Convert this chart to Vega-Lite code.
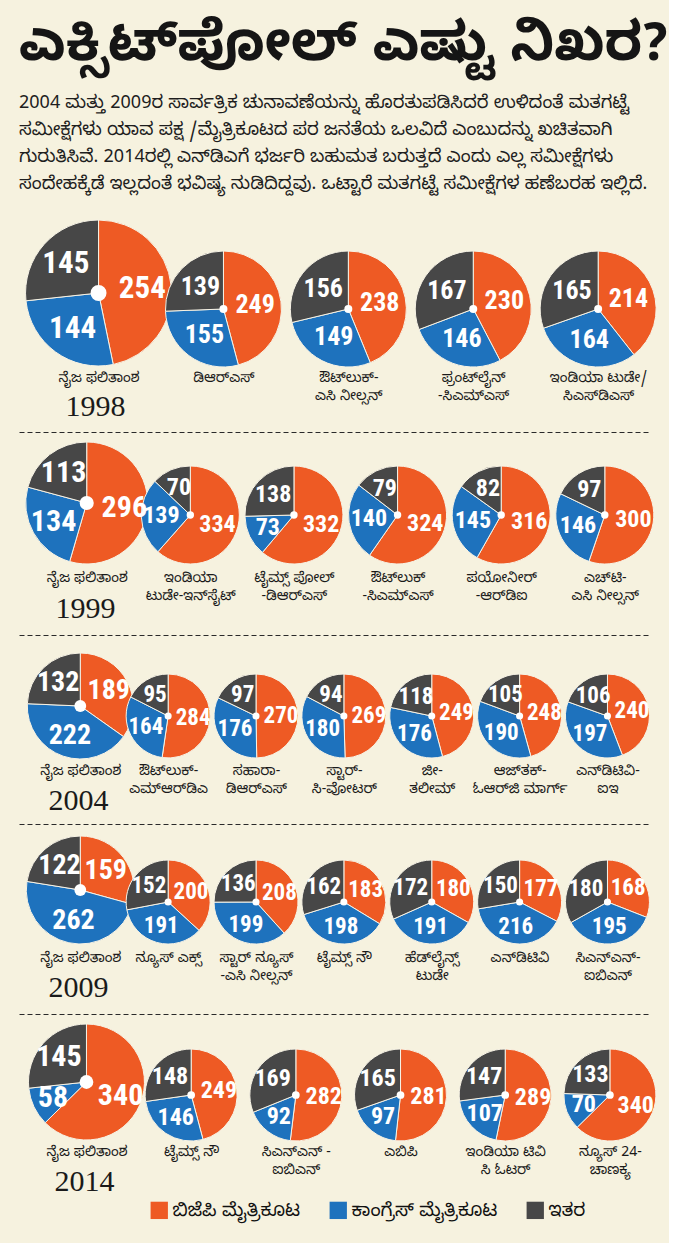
{
"$schema": "https://vega.github.io/schema/vega-lite/v6.json",
"background": "#f6f2df",
"padding": {"left": 19, "top": 16, "right": 0, "bottom": 24},
"bounds": "flush",
"spacing": 66,
"title": {
  "text": "ಎಕ್ಸಿಟ್\u200cಪೋಲ್ ಎಷ್ಟು ನಿಖರ?",
  "subtitle": [
    "2004 ಮತ್ತು 2009ರ ಸಾರ್ವತ್ರಿಕ ಚುನಾವಣೆಯನ್ನು ಹೊರತುಪಡಿಸಿದರೆ ಉಳಿದಂತೆ ಮತಗಟ್ಟೆ",
    "ಸಮೀಕ್ಷೆಗಳು ಯಾವ ಪಕ್ಷ /ಮೈತ್ರಿಕೂಟದ ಪರ ಜನತೆಯ ಒಲವಿದೆ ಎಂಬುದನ್ನು ಖಚಿತವಾಗಿ",
    "ಗುರುತಿಸಿವೆ. 2014ರಲ್ಲಿ ಎನ್\u200cಡಿಎಗೆ ಭರ್ಜರಿ ಬಹುಮತ ಬರುತ್ತದೆ ಎಂದು ಎಲ್ಲ ಸಮೀಕ್ಷೆಗಳು",
    "ಸಂದೇಹಕ್ಕೆಡೆ ಇಲ್ಲದಂತೆ ಭವಿಷ್ಯ ನುಡಿದಿದ್ದವು.  ಒಟ್ಟಾರೆ ಮತಗಟ್ಟೆ ಸಮೀಕ್ಷೆಗಳ ಹಣೆಬರಹ ಇಲ್ಲಿದೆ."
  ],
  "anchor": "start",
  "frame": "group",
  "font": "Noto Sans Kannada, Noto Sans, sans-serif",
  "fontSize": 54.5,
  "fontWeight": "bold",
  "color": "#151515",
  "subtitleFont": "Noto Sans Kannada, Noto Sans, sans-serif",
  "subtitleFontSize": 18,
  "subtitleColor": "#1e1e1e",
  "subtitleLineHeight": 27,
  "subtitlePadding": 22.5,
  "offset": 24
},
"data": {"values": [
{"y":1998,"s":"ನೈಜ ಫಲಿತಾಂಶ","k":"a","p":"ಬಿಜೆಪಿ ಮೈತ್ರಿಕೂಟ","v":254},
{"y":1998,"s":"ನೈಜ ಫಲಿತಾಂಶ","k":"a","p":"ಕಾಂಗ್ರೆಸ್ ಮೈತ್ರಿಕೂಟ","v":144},
{"y":1998,"s":"ನೈಜ ಫಲಿತಾಂಶ","k":"a","p":"ಇತರ","v":145},
{"y":1998,"s":"ಡಿಆರ್\u200cಎಸ್","k":"p","p":"ಬಿಜೆಪಿ ಮೈತ್ರಿಕೂಟ","v":249},
{"y":1998,"s":"ಡಿಆರ್\u200cಎಸ್","k":"p","p":"ಕಾಂಗ್ರೆಸ್ ಮೈತ್ರಿಕೂಟ","v":155},
{"y":1998,"s":"ಡಿಆರ್\u200cಎಸ್","k":"p","p":"ಇತರ","v":139},
{"y":1998,"s":"ಔಟ್\u200cಲುಕ್-|ಎಸಿ ನೀಲ್ಸನ್","k":"p","p":"ಬಿಜೆಪಿ ಮೈತ್ರಿಕೂಟ","v":238},
{"y":1998,"s":"ಔಟ್\u200cಲುಕ್-|ಎಸಿ ನೀಲ್ಸನ್","k":"p","p":"ಕಾಂಗ್ರೆಸ್ ಮೈತ್ರಿಕೂಟ","v":149},
{"y":1998,"s":"ಔಟ್\u200cಲುಕ್-|ಎಸಿ ನೀಲ್ಸನ್","k":"p","p":"ಇತರ","v":156},
{"y":1998,"s":"ಫ್ರಂಟ್\u200cಲೈನ್|-ಸಿಎಮ್\u200cಎಸ್","k":"p","p":"ಬಿಜೆಪಿ ಮೈತ್ರಿಕೂಟ","v":230},
{"y":1998,"s":"ಫ್ರಂಟ್\u200cಲೈನ್|-ಸಿಎಮ್\u200cಎಸ್","k":"p","p":"ಕಾಂಗ್ರೆಸ್ ಮೈತ್ರಿಕೂಟ","v":146},
{"y":1998,"s":"ಫ್ರಂಟ್\u200cಲೈನ್|-ಸಿಎಮ್\u200cಎಸ್","k":"p","p":"ಇತರ","v":167},
{"y":1998,"s":"ಇಂಡಿಯಾ ಟುಡೇ/|ಸಿಎಸ್\u200cಡಿಎಸ್","k":"p","p":"ಬಿಜೆಪಿ ಮೈತ್ರಿಕೂಟ","v":214},
{"y":1998,"s":"ಇಂಡಿಯಾ ಟುಡೇ/|ಸಿಎಸ್\u200cಡಿಎಸ್","k":"p","p":"ಕಾಂಗ್ರೆಸ್ ಮೈತ್ರಿಕೂಟ","v":164},
{"y":1998,"s":"ಇಂಡಿಯಾ ಟುಡೇ/|ಸಿಎಸ್\u200cಡಿಎಸ್","k":"p","p":"ಇತರ","v":165},
{"y":1999,"s":"ನೈಜ ಫಲಿತಾಂಶ","k":"a","p":"ಬಿಜೆಪಿ ಮೈತ್ರಿಕೂಟ","v":296},
{"y":1999,"s":"ನೈಜ ಫಲಿತಾಂಶ","k":"a","p":"ಕಾಂಗ್ರೆಸ್ ಮೈತ್ರಿಕೂಟ","v":134},
{"y":1999,"s":"ನೈಜ ಫಲಿತಾಂಶ","k":"a","p":"ಇತರ","v":113},
{"y":1999,"s":"ಇಂಡಿಯಾ|ಟುಡೇ-ಇನ್\u200cಸೈಟ್","k":"p","p":"ಬಿಜೆಪಿ ಮೈತ್ರಿಕೂಟ","v":334},
{"y":1999,"s":"ಇಂಡಿಯಾ|ಟುಡೇ-ಇನ್\u200cಸೈಟ್","k":"p","p":"ಕಾಂಗ್ರೆಸ್ ಮೈತ್ರಿಕೂಟ","v":139},
{"y":1999,"s":"ಇಂಡಿಯಾ|ಟುಡೇ-ಇನ್\u200cಸೈಟ್","k":"p","p":"ಇತರ","v":70},
{"y":1999,"s":"ಟೈಮ್ಸ್ ಪೋಲ್|-ಡಿಆರ್\u200cಎಸ್","k":"p","p":"ಬಿಜೆಪಿ ಮೈತ್ರಿಕೂಟ","v":332},
{"y":1999,"s":"ಟೈಮ್ಸ್ ಪೋಲ್|-ಡಿಆರ್\u200cಎಸ್","k":"p","p":"ಕಾಂಗ್ರೆಸ್ ಮೈತ್ರಿಕೂಟ","v":73},
{"y":1999,"s":"ಟೈಮ್ಸ್ ಪೋಲ್|-ಡಿಆರ್\u200cಎಸ್","k":"p","p":"ಇತರ","v":138},
{"y":1999,"s":"ಔಟ್\u200cಲುಕ್|-ಸಿಎಮ್\u200cಎಸ್","k":"p","p":"ಬಿಜೆಪಿ ಮೈತ್ರಿಕೂಟ","v":324},
{"y":1999,"s":"ಔಟ್\u200cಲುಕ್|-ಸಿಎಮ್\u200cಎಸ್","k":"p","p":"ಕಾಂಗ್ರೆಸ್ ಮೈತ್ರಿಕೂಟ","v":140},
{"y":1999,"s":"ಔಟ್\u200cಲುಕ್|-ಸಿಎಮ್\u200cಎಸ್","k":"p","p":"ಇತರ","v":79},
{"y":1999,"s":"ಪಯೋನೀರ್|-ಆರ್\u200cಡಿಐ","k":"p","p":"ಬಿಜೆಪಿ ಮೈತ್ರಿಕೂಟ","v":316},
{"y":1999,"s":"ಪಯೋನೀರ್|-ಆರ್\u200cಡಿಐ","k":"p","p":"ಕಾಂಗ್ರೆಸ್ ಮೈತ್ರಿಕೂಟ","v":145},
{"y":1999,"s":"ಪಯೋನೀರ್|-ಆರ್\u200cಡಿಐ","k":"p","p":"ಇತರ","v":82},
{"y":1999,"s":"ಎಚ್\u200cಟಿ-|ಎಸಿ ನೀಲ್ಸನ್","k":"p","p":"ಬಿಜೆಪಿ ಮೈತ್ರಿಕೂಟ","v":300},
{"y":1999,"s":"ಎಚ್\u200cಟಿ-|ಎಸಿ ನೀಲ್ಸನ್","k":"p","p":"ಕಾಂಗ್ರೆಸ್ ಮೈತ್ರಿಕೂಟ","v":146},
{"y":1999,"s":"ಎಚ್\u200cಟಿ-|ಎಸಿ ನೀಲ್ಸನ್","k":"p","p":"ಇತರ","v":97},
{"y":2004,"s":"ನೈಜ ಫಲಿತಾಂಶ","k":"a","p":"ಬಿಜೆಪಿ ಮೈತ್ರಿಕೂಟ","v":189},
{"y":2004,"s":"ನೈಜ ಫಲಿತಾಂಶ","k":"a","p":"ಕಾಂಗ್ರೆಸ್ ಮೈತ್ರಿಕೂಟ","v":222},
{"y":2004,"s":"ನೈಜ ಫಲಿತಾಂಶ","k":"a","p":"ಇತರ","v":132},
{"y":2004,"s":"ಔಟ್\u200cಲುಕ್-|ಎಮ್\u200cಆರ್\u200cಡಿಎ","k":"p","p":"ಬಿಜೆಪಿ ಮೈತ್ರಿಕೂಟ","v":284},
{"y":2004,"s":"ಔಟ್\u200cಲುಕ್-|ಎಮ್\u200cಆರ್\u200cಡಿಎ","k":"p","p":"ಕಾಂಗ್ರೆಸ್ ಮೈತ್ರಿಕೂಟ","v":164},
{"y":2004,"s":"ಔಟ್\u200cಲುಕ್-|ಎಮ್\u200cಆರ್\u200cಡಿಎ","k":"p","p":"ಇತರ","v":95},
{"y":2004,"s":"ಸಹಾರಾ-|ಡಿಆರ್\u200cಎಸ್","k":"p","p":"ಬಿಜೆಪಿ ಮೈತ್ರಿಕೂಟ","v":270},
{"y":2004,"s":"ಸಹಾರಾ-|ಡಿಆರ್\u200cಎಸ್","k":"p","p":"ಕಾಂಗ್ರೆಸ್ ಮೈತ್ರಿಕೂಟ","v":176},
{"y":2004,"s":"ಸಹಾರಾ-|ಡಿಆರ್\u200cಎಸ್","k":"p","p":"ಇತರ","v":97},
{"y":2004,"s":"ಸ್ಟಾರ್-|ಸಿ-ವೋಟರ್","k":"p","p":"ಬಿಜೆಪಿ ಮೈತ್ರಿಕೂಟ","v":269},
{"y":2004,"s":"ಸ್ಟಾರ್-|ಸಿ-ವೋಟರ್","k":"p","p":"ಕಾಂಗ್ರೆಸ್ ಮೈತ್ರಿಕೂಟ","v":180},
{"y":2004,"s":"ಸ್ಟಾರ್-|ಸಿ-ವೋಟರ್","k":"p","p":"ಇತರ","v":94},
{"y":2004,"s":"ಜೀ-|ತಲೀಮ್","k":"p","p":"ಬಿಜೆಪಿ ಮೈತ್ರಿಕೂಟ","v":249},
{"y":2004,"s":"ಜೀ-|ತಲೀಮ್","k":"p","p":"ಕಾಂಗ್ರೆಸ್ ಮೈತ್ರಿಕೂಟ","v":176},
{"y":2004,"s":"ಜೀ-|ತಲೀಮ್","k":"p","p":"ಇತರ","v":118},
{"y":2004,"s":"ಆಜ್\u200cತಕ್-|ಓಆರ್\u200cಜಿ ಮಾರ್ಗ್","k":"p","p":"ಬಿಜೆಪಿ ಮೈತ್ರಿಕೂಟ","v":248},
{"y":2004,"s":"ಆಜ್\u200cತಕ್-|ಓಆರ್\u200cಜಿ ಮಾರ್ಗ್","k":"p","p":"ಕಾಂಗ್ರೆಸ್ ಮೈತ್ರಿಕೂಟ","v":190},
{"y":2004,"s":"ಆಜ್\u200cತಕ್-|ಓಆರ್\u200cಜಿ ಮಾರ್ಗ್","k":"p","p":"ಇತರ","v":105},
{"y":2004,"s":"ಎನ್\u200cಡಿಟಿವಿ-|ಐಇ","k":"p","p":"ಬಿಜೆಪಿ ಮೈತ್ರಿಕೂಟ","v":240},
{"y":2004,"s":"ಎನ್\u200cಡಿಟಿವಿ-|ಐಇ","k":"p","p":"ಕಾಂಗ್ರೆಸ್ ಮೈತ್ರಿಕೂಟ","v":197},
{"y":2004,"s":"ಎನ್\u200cಡಿಟಿವಿ-|ಐಇ","k":"p","p":"ಇತರ","v":106},
{"y":2009,"s":"ನೈಜ ಫಲಿತಾಂಶ","k":"a","p":"ಬಿಜೆಪಿ ಮೈತ್ರಿಕೂಟ","v":159},
{"y":2009,"s":"ನೈಜ ಫಲಿತಾಂಶ","k":"a","p":"ಕಾಂಗ್ರೆಸ್ ಮೈತ್ರಿಕೂಟ","v":262},
{"y":2009,"s":"ನೈಜ ಫಲಿತಾಂಶ","k":"a","p":"ಇತರ","v":122},
{"y":2009,"s":"ನ್ಯೂಸ್ ಎಕ್ಸ್","k":"p","p":"ಬಿಜೆಪಿ ಮೈತ್ರಿಕೂಟ","v":200},
{"y":2009,"s":"ನ್ಯೂಸ್ ಎಕ್ಸ್","k":"p","p":"ಕಾಂಗ್ರೆಸ್ ಮೈತ್ರಿಕೂಟ","v":191},
{"y":2009,"s":"ನ್ಯೂಸ್ ಎಕ್ಸ್","k":"p","p":"ಇತರ","v":152},
{"y":2009,"s":"ಸ್ಟಾರ್ ನ್ಯೂಸ್|-ಎಸಿ ನೀಲ್ಸನ್","k":"p","p":"ಬಿಜೆಪಿ ಮೈತ್ರಿಕೂಟ","v":208},
{"y":2009,"s":"ಸ್ಟಾರ್ ನ್ಯೂಸ್|-ಎಸಿ ನೀಲ್ಸನ್","k":"p","p":"ಕಾಂಗ್ರೆಸ್ ಮೈತ್ರಿಕೂಟ","v":199},
{"y":2009,"s":"ಸ್ಟಾರ್ ನ್ಯೂಸ್|-ಎಸಿ ನೀಲ್ಸನ್","k":"p","p":"ಇತರ","v":136},
{"y":2009,"s":"ಟೈಮ್ಸ್ ನೌ","k":"p","p":"ಬಿಜೆಪಿ ಮೈತ್ರಿಕೂಟ","v":183},
{"y":2009,"s":"ಟೈಮ್ಸ್ ನೌ","k":"p","p":"ಕಾಂಗ್ರೆಸ್ ಮೈತ್ರಿಕೂಟ","v":198},
{"y":2009,"s":"ಟೈಮ್ಸ್ ನೌ","k":"p","p":"ಇತರ","v":162},
{"y":2009,"s":"ಹೆಡ್\u200cಲೈನ್ಸ್|ಟುಡೇ","k":"p","p":"ಬಿಜೆಪಿ ಮೈತ್ರಿಕೂಟ","v":180},
{"y":2009,"s":"ಹೆಡ್\u200cಲೈನ್ಸ್|ಟುಡೇ","k":"p","p":"ಕಾಂಗ್ರೆಸ್ ಮೈತ್ರಿಕೂಟ","v":191},
{"y":2009,"s":"ಹೆಡ್\u200cಲೈನ್ಸ್|ಟುಡೇ","k":"p","p":"ಇತರ","v":172},
{"y":2009,"s":"ಎನ್\u200cಡಿಟಿವಿ","k":"p","p":"ಬಿಜೆಪಿ ಮೈತ್ರಿಕೂಟ","v":177},
{"y":2009,"s":"ಎನ್\u200cಡಿಟಿವಿ","k":"p","p":"ಕಾಂಗ್ರೆಸ್ ಮೈತ್ರಿಕೂಟ","v":216},
{"y":2009,"s":"ಎನ್\u200cಡಿಟಿವಿ","k":"p","p":"ಇತರ","v":150},
{"y":2009,"s":"ಸಿಎನ್\u200cಎನ್-|ಐಬಿಎನ್","k":"p","p":"ಬಿಜೆಪಿ ಮೈತ್ರಿಕೂಟ","v":168},
{"y":2009,"s":"ಸಿಎನ್\u200cಎನ್-|ಐಬಿಎನ್","k":"p","p":"ಕಾಂಗ್ರೆಸ್ ಮೈತ್ರಿಕೂಟ","v":195},
{"y":2009,"s":"ಸಿಎನ್\u200cಎನ್-|ಐಬಿಎನ್","k":"p","p":"ಇತರ","v":180},
{"y":2014,"s":"ನೈಜ ಫಲಿತಾಂಶ","k":"a","p":"ಬಿಜೆಪಿ ಮೈತ್ರಿಕೂಟ","v":340},
{"y":2014,"s":"ನೈಜ ಫಲಿತಾಂಶ","k":"a","p":"ಕಾಂಗ್ರೆಸ್ ಮೈತ್ರಿಕೂಟ","v":58},
{"y":2014,"s":"ನೈಜ ಫಲಿತಾಂಶ","k":"a","p":"ಇತರ","v":145},
{"y":2014,"s":"ಟೈಮ್ಸ್ ನೌ","k":"p","p":"ಬಿಜೆಪಿ ಮೈತ್ರಿಕೂಟ","v":249},
{"y":2014,"s":"ಟೈಮ್ಸ್ ನೌ","k":"p","p":"ಕಾಂಗ್ರೆಸ್ ಮೈತ್ರಿಕೂಟ","v":146},
{"y":2014,"s":"ಟೈಮ್ಸ್ ನೌ","k":"p","p":"ಇತರ","v":148},
{"y":2014,"s":"ಸಿಎನ್\u200cಎನ್ -|ಐಬಿಎನ್","k":"p","p":"ಬಿಜೆಪಿ ಮೈತ್ರಿಕೂಟ","v":282},
{"y":2014,"s":"ಸಿಎನ್\u200cಎನ್ -|ಐಬಿಎನ್","k":"p","p":"ಕಾಂಗ್ರೆಸ್ ಮೈತ್ರಿಕೂಟ","v":92},
{"y":2014,"s":"ಸಿಎನ್\u200cಎನ್ -|ಐಬಿಎನ್","k":"p","p":"ಇತರ","v":169},
{"y":2014,"s":"ಎಬಿಪಿ","k":"p","p":"ಬಿಜೆಪಿ ಮೈತ್ರಿಕೂಟ","v":281},
{"y":2014,"s":"ಎಬಿಪಿ","k":"p","p":"ಕಾಂಗ್ರೆಸ್ ಮೈತ್ರಿಕೂಟ","v":97},
{"y":2014,"s":"ಎಬಿಪಿ","k":"p","p":"ಇತರ","v":165},
{"y":2014,"s":"ಇಂಡಿಯಾ ಟಿವಿ|ಸಿ ಓಟರ್","k":"p","p":"ಬಿಜೆಪಿ ಮೈತ್ರಿಕೂಟ","v":289},
{"y":2014,"s":"ಇಂಡಿಯಾ ಟಿವಿ|ಸಿ ಓಟರ್","k":"p","p":"ಕಾಂಗ್ರೆಸ್ ಮೈತ್ರಿಕೂಟ","v":107},
{"y":2014,"s":"ಇಂಡಿಯಾ ಟಿವಿ|ಸಿ ಓಟರ್","k":"p","p":"ಇತರ","v":147},
{"y":2014,"s":"ನ್ಯೂಸ್ 24-|ಚಾಣಕ್ಯ","k":"p","p":"ಬಿಜೆಪಿ ಮೈತ್ರಿಕೂಟ","v":340},
{"y":2014,"s":"ನ್ಯೂಸ್ 24-|ಚಾಣಕ್ಯ","k":"p","p":"ಕಾಂಗ್ರೆಸ್ ಮೈತ್ರಿಕೂಟ","v":70},
{"y":2014,"s":"ನ್ಯೂಸ್ 24-|ಚಾಣಕ್ಯ","k":"p","p":"ಇತರ","v":133}
]},
"vconcat": [
{
 "width": 630, "height": 147,
 "transform": [{"filter": "datum.y == 1998"}],
 "encoding": {
  "x": {"field": "s", "type": "nominal", "sort": ["ನೈಜ ಫಲಿತಾಂಶ","ಡಿಆರ್\u200cಎಸ್","ಔಟ್\u200cಲುಕ್-|ಎಸಿ ನೀಲ್ಸನ್","ಫ್ರಂಟ್\u200cಲೈನ್|-ಸಿಎಮ್\u200cಎಸ್","ಇಂಡಿಯಾ ಟುಡೇ/|ಸಿಎಸ್\u200cಡಿಎಸ್"], "scale": {"type": "point", "padding": 0.522, "align": 0.61}, "axis": null},
  "y": {"field": "k", "type": "nominal", "scale": {"type": "point", "padding": 0, "domain": ["a","p"], "range": [74, 90]}, "axis": null}
 },
 "layer": [
  {"transform": [{"filter": {"field": "k", "equal": "a"}}, {"stack": "v", "groupby": ["s"], "sort": [{"field": "p", "order": "descending"}], "as": ["s0","s1"]}],
   "mark": {"type": "arc", "outerRadius": 73, "stroke": "#f7f3e6", "strokeWidth": 1},
   "encoding": {
    "x": {"field": "s", "type": "nominal", "sort": ["ನೈಜ ಫಲಿತಾಂಶ","ಡಿಆರ್\u200cಎಸ್","ಔಟ್\u200cಲುಕ್-|ಎಸಿ ನೀಲ್ಸನ್","ಫ್ರಂಟ್\u200cಲೈನ್|-ಸಿಎಮ್\u200cಎಸ್","ಇಂಡಿಯಾ ಟುಡೇ/|ಸಿಎಸ್\u200cಡಿಎಸ್"], "scale": {"type": "point", "padding": 0.522, "align": 0.61}, "axis": {"title": "1998", "titleX": 76, "titleY": 40, "labelPadding": 4}},
    "theta": {"field": "s0", "type": "quantitative", "stack": null, "scale": {"domain": [0, 543]}},
    "theta2": {"field": "s1"},
    "color": {"field": "p", "type": "nominal", "title": null, "scale": {"domain": ["ಬಿಜೆಪಿ ಮೈತ್ರಿಕೂಟ","ಕಾಂಗ್ರೆಸ್ ಮೈತ್ರಿಕೂಟ","ಇತರ"], "range": ["#ee5a24","#1e72bd","#474747"]}}
   }},
  {"transform": [{"filter": {"field": "k", "equal": "p"}}, {"stack": "v", "groupby": ["s"], "sort": [{"field": "p", "order": "descending"}], "as": ["s0","s1"]}],
   "mark": {"type": "arc", "outerRadius": 58, "stroke": "#f7f3e6", "strokeWidth": 1},
   "encoding": {
    "theta": {"field": "s0", "type": "quantitative", "stack": null, "scale": {"domain": [0, 543]}},
    "theta2": {"field": "s1"},
    "color": {"field": "p", "type": "nominal", "title": null, "scale": {"domain": ["ಬಿಜೆಪಿ ಮೈತ್ರಿಕೂಟ","ಕಾಂಗ್ರೆಸ್ ಮೈತ್ರಿಕೂಟ","ಇತರ"], "range": ["#ee5a24","#1e72bd","#474747"]}}
   }},
  {"transform": [{"filter": {"field": "k", "equal": "a"}}, {"filter": {"field": "p", "equal": "ಬಿಜೆಪಿ ಮೈತ್ರಿಕೂಟ"}}],
   "mark": {"type": "circle", "color": "white", "size": 254, "opacity": 1}},
  {"transform": [{"filter": {"field": "k", "equal": "p"}}, {"filter": {"field": "p", "equal": "ಬಿಜೆಪಿ ಮೈತ್ರಿಕೂಟ"}}],
   "mark": {"type": "circle", "color": "white", "size": 64, "opacity": 1}},
  {"transform": [{"filter": {"field": "k", "equal": "a"}}],
   "mark": {"type": "text", "font": "Roboto Condensed, Roboto, sans-serif", "fontWeight": "bold", "fontSize": 31, "color": "white", "align": "center", "baseline": "middle"},
   "encoding": {
    "theta": {"field": "v", "type": "quantitative", "stack": true, "scale": {"domain": [0, 543]}},
    "radius": {"field": "s", "type": "nominal", "scale": {"range": [44, 44]}},
    "order": {"field": "p", "type": "nominal", "sort": "descending"},
    "detail": {"field": "p", "type": "nominal"},
    "text": {"field": "v", "type": "quantitative"}
   }},
  {"transform": [{"filter": {"field": "k", "equal": "p"}}],
   "mark": {"type": "text", "font": "Roboto Condensed, Roboto, sans-serif", "fontWeight": "bold", "fontSize": 26, "color": "white", "align": "center", "baseline": "middle"},
   "encoding": {
    "theta": {"field": "v", "type": "quantitative", "stack": true, "scale": {"domain": [0, 543]}},
    "radius": {"field": "s", "type": "nominal", "scale": {"range": [32, 32]}},
    "order": {"field": "p", "type": "nominal", "sort": "descending"},
    "detail": {"field": "p", "type": "nominal"},
    "text": {"field": "v", "type": "quantitative"}
   }}
 ],
 "resolve": {"scale": {"radius": "independent"}, "axis": {"x": "independent"}}
},
{
 "width": 630, "height": 137,
 "transform": [{"filter": "datum.y == 1999"}],
 "encoding": {
  "x": {"field": "s", "type": "nominal", "sort": ["ನೈಜ ಫಲಿತಾಂಶ","ಇಂಡಿಯಾ|ಟುಡೇ-ಇನ್\u200cಸೈಟ್","ಟೈಮ್ಸ್ ಪೋಲ್|-ಡಿಆರ್\u200cಎಸ್","ಔಟ್\u200cಲುಕ್|-ಸಿಎಮ್\u200cಎಸ್","ಪಯೋನೀರ್|-ಆರ್\u200cಡಿಐ","ಎಚ್\u200cಟಿ-|ಎಸಿ ನೀಲ್ಸನ್"], "scale": {"type": "point", "padding": 0.54, "align": 0.605}, "axis": null},
  "y": {"field": "k", "type": "nominal", "scale": {"type": "point", "padding": 0, "domain": ["a","p"], "range": [71, 83]}, "axis": null}
 },
 "layer": [
  {"transform": [{"filter": {"field": "k", "equal": "a"}}, {"stack": "v", "groupby": ["s"], "sort": [{"field": "p", "order": "descending"}], "as": ["s0","s1"]}],
   "mark": {"type": "arc", "outerRadius": 61, "stroke": "#f7f3e6", "strokeWidth": 1},
   "encoding": {
    "x": {"field": "s", "type": "nominal", "sort": ["ನೈಜ ಫಲಿತಾಂಶ","ಇಂಡಿಯಾ|ಟುಡೇ-ಇನ್\u200cಸೈಟ್","ಟೈಮ್ಸ್ ಪೋಲ್|-ಡಿಆರ್\u200cಎಸ್","ಔಟ್\u200cಲುಕ್|-ಸಿಎಮ್\u200cಎಸ್","ಪಯೋನೀರ್|-ಆರ್\u200cಡಿಐ","ಎಚ್\u200cಟಿ-|ಎಸಿ ನೀಲ್ಸನ್"], "scale": {"type": "point", "padding": 0.54, "align": 0.605}, "axis": {"title": "1999", "titleX": 66, "titleY": 39, "labelPadding": 1}},
    "theta": {"field": "s0", "type": "quantitative", "stack": null, "scale": {"domain": [0, 543]}},
    "theta2": {"field": "s1"},
    "color": {"field": "p", "type": "nominal", "title": null, "scale": {"domain": ["ಬಿಜೆಪಿ ಮೈತ್ರಿಕೂಟ","ಕಾಂಗ್ರೆಸ್ ಮೈತ್ರಿಕೂಟ","ಇತರ"], "range": ["#ee5a24","#1e72bd","#474747"]}}
   }},
  {"transform": [{"filter": {"field": "k", "equal": "p"}}, {"stack": "v", "groupby": ["s"], "sort": [{"field": "p", "order": "descending"}], "as": ["s0","s1"]}],
   "mark": {"type": "arc", "outerRadius": 49, "stroke": "#f7f3e6", "strokeWidth": 1},
   "encoding": {
    "x": {"field": "s", "type": "nominal", "sort": ["ನೈಜ ಫಲಿತಾಂಶ","ಇಂಡಿಯಾ|ಟುಡೇ-ಇನ್\u200cಸೈಟ್","ಟೈಮ್ಸ್ ಪೋಲ್|-ಡಿಆರ್\u200cಎಸ್","ಔಟ್\u200cಲುಕ್|-ಸಿಎಮ್\u200cಎಸ್","ಪಯೋನೀರ್|-ಆರ್\u200cಡಿಐ","ಎಚ್\u200cಟಿ-|ಎಸಿ ನೀಲ್ಸನ್"], "scale": {"type": "point", "padding": 0.54, "align": 0.605}, "axis": {"orient": "top", "domain": true, "domainDash": [5, 3], "domainColor": "#2a2a2a", "labels": false, "title": null}},
    "theta": {"field": "s0", "type": "quantitative", "stack": null, "scale": {"domain": [0, 543]}},
    "theta2": {"field": "s1"},
    "color": {"field": "p", "type": "nominal", "title": null, "scale": {"domain": ["ಬಿಜೆಪಿ ಮೈತ್ರಿಕೂಟ","ಕಾಂಗ್ರೆಸ್ ಮೈತ್ರಿಕೂಟ","ಇತರ"], "range": ["#ee5a24","#1e72bd","#474747"]}}
   }},
  {"transform": [{"filter": {"field": "k", "equal": "a"}}, {"filter": {"field": "p", "equal": "ಬಿಜೆಪಿ ಮೈತ್ರಿಕೂಟ"}}],
   "mark": {"type": "circle", "color": "white", "size": 200, "opacity": 1}},
  {"transform": [{"filter": {"field": "k", "equal": "p"}}, {"filter": {"field": "p", "equal": "ಬಿಜೆಪಿ ಮೈತ್ರಿಕೂಟ"}}],
   "mark": {"type": "circle", "color": "white", "size": 55, "opacity": 1}},
  {"transform": [{"filter": {"field": "k", "equal": "a"}}],
   "mark": {"type": "text", "font": "Roboto Condensed, Roboto, sans-serif", "fontWeight": "bold", "fontSize": 30, "color": "white", "align": "center", "baseline": "middle"},
   "encoding": {
    "theta": {"field": "v", "type": "quantitative", "stack": true, "scale": {"domain": [0, 543]}},
    "radius": {"field": "s", "type": "nominal", "scale": {"range": [38, 38]}},
    "order": {"field": "p", "type": "nominal", "sort": "descending"},
    "detail": {"field": "p", "type": "nominal"},
    "text": {"field": "v", "type": "quantitative"}
   }},
  {"transform": [{"filter": {"field": "k", "equal": "p"}}],
   "mark": {"type": "text", "font": "Roboto Condensed, Roboto, sans-serif", "fontWeight": "bold", "fontSize": 24, "color": "white", "align": "center", "baseline": "middle"},
   "encoding": {
    "theta": {"field": "v", "type": "quantitative", "stack": true, "scale": {"domain": [0, 543]}},
    "radius": {"field": "s", "type": "nominal", "scale": {"range": [29, 29]}},
    "order": {"field": "p", "type": "nominal", "sort": "descending"},
    "detail": {"field": "p", "type": "nominal"},
    "text": {"field": "v", "type": "quantitative"}
   }}
 ],
 "resolve": {"scale": {"radius": "independent"}, "axis": {"x": "independent"}}
},
{
 "width": 630, "height": 123,
 "transform": [{"filter": "datum.y == 2004"}],
 "encoding": {
  "x": {"field": "s", "type": "nominal", "sort": ["ನೈಜ ಫಲಿತಾಂಶ","ಔಟ್\u200cಲುಕ್-|ಎಮ್\u200cಆರ್\u200cಡಿಎ","ಸಹಾರಾ-|ಡಿಆರ್\u200cಎಸ್","ಸ್ಟಾರ್-|ಸಿ-ವೋಟರ್","ಜೀ-|ತಲೀಮ್","ಆಜ್\u200cತಕ್-|ಓಆರ್\u200cಜಿ ಮಾರ್ಗ್","ಎನ್\u200cಡಿಟಿವಿ-|ಐಇ"], "scale": {"type": "point", "padding": 0.585, "align": 0.596}, "axis": null},
  "y": {"field": "k", "type": "nominal", "scale": {"type": "point", "padding": 0, "domain": ["a","p"], "range": [71, 81]}, "axis": null}
 },
 "layer": [
  {"transform": [{"filter": {"field": "k", "equal": "a"}}, {"stack": "v", "groupby": ["s"], "sort": [{"field": "p", "order": "descending"}], "as": ["s0","s1"]}],
   "mark": {"type": "arc", "outerRadius": 53, "stroke": "#f7f3e6", "strokeWidth": 1},
   "encoding": {
    "x": {"field": "s", "type": "nominal", "sort": ["ನೈಜ ಫಲಿತಾಂಶ","ಔಟ್\u200cಲುಕ್-|ಎಮ್\u200cಆರ್\u200cಡಿಎ","ಸಹಾರಾ-|ಡಿಆರ್\u200cಎಸ್","ಸ್ಟಾರ್-|ಸಿ-ವೋಟರ್","ಜೀ-|ತಲೀಮ್","ಆಜ್\u200cತಕ್-|ಓಆರ್\u200cಜಿ ಮಾರ್ಗ್","ಎನ್\u200cಡಿಟಿವಿ-|ಐಇ"], "scale": {"type": "point", "padding": 0.585, "align": 0.596}, "axis": {"title": "2004", "titleX": 59, "titleY": 42, "labelPadding": 5}},
    "theta": {"field": "s0", "type": "quantitative", "stack": null, "scale": {"domain": [0, 543]}},
    "theta2": {"field": "s1"},
    "color": {"field": "p", "type": "nominal", "title": null, "scale": {"domain": ["ಬಿಜೆಪಿ ಮೈತ್ರಿಕೂಟ","ಕಾಂಗ್ರೆಸ್ ಮೈತ್ರಿಕೂಟ","ಇತರ"], "range": ["#ee5a24","#1e72bd","#474747"]}}
   }},
  {"transform": [{"filter": {"field": "k", "equal": "p"}}, {"stack": "v", "groupby": ["s"], "sort": [{"field": "p", "order": "descending"}], "as": ["s0","s1"]}],
   "mark": {"type": "arc", "outerRadius": 42, "stroke": "#f7f3e6", "strokeWidth": 1},
   "encoding": {
    "x": {"field": "s", "type": "nominal", "sort": ["ನೈಜ ಫಲಿತಾಂಶ","ಔಟ್\u200cಲುಕ್-|ಎಮ್\u200cಆರ್\u200cಡಿಎ","ಸಹಾರಾ-|ಡಿಆರ್\u200cಎಸ್","ಸ್ಟಾರ್-|ಸಿ-ವೋಟರ್","ಜೀ-|ತಲೀಮ್","ಆಜ್\u200cತಕ್-|ಓಆರ್\u200cಜಿ ಮಾರ್ಗ್","ಎನ್\u200cಡಿಟಿವಿ-|ಐಇ"], "scale": {"type": "point", "padding": 0.585, "align": 0.596}, "axis": {"orient": "top", "domain": true, "domainDash": [5, 3], "domainColor": "#2a2a2a", "labels": false, "title": null}},
    "theta": {"field": "s0", "type": "quantitative", "stack": null, "scale": {"domain": [0, 543]}},
    "theta2": {"field": "s1"},
    "color": {"field": "p", "type": "nominal", "title": null, "scale": {"domain": ["ಬಿಜೆಪಿ ಮೈತ್ರಿಕೂಟ","ಕಾಂಗ್ರೆಸ್ ಮೈತ್ರಿಕೂಟ","ಇತರ"], "range": ["#ee5a24","#1e72bd","#474747"]}}
   }},
  {"transform": [{"filter": {"field": "k", "equal": "a"}}, {"filter": {"field": "p", "equal": "ಬಿಜೆಪಿ ಮೈತ್ರಿಕೂಟ"}}],
   "mark": {"type": "circle", "color": "white", "size": 140, "opacity": 1}},
  {"transform": [{"filter": {"field": "k", "equal": "p"}}, {"filter": {"field": "p", "equal": "ಬಿಜೆಪಿ ಮೈತ್ರಿಕೂಟ"}}],
   "mark": {"type": "circle", "color": "white", "size": 50, "opacity": 1}},
  {"transform": [{"filter": {"field": "k", "equal": "a"}}],
   "mark": {"type": "text", "font": "Roboto Condensed, Roboto, sans-serif", "fontWeight": "bold", "fontSize": 28, "color": "white", "align": "center", "baseline": "middle"},
   "encoding": {
    "theta": {"field": "v", "type": "quantitative", "stack": true, "scale": {"domain": [0, 543]}},
    "radius": {"field": "s", "type": "nominal", "scale": {"range": [32, 32]}},
    "order": {"field": "p", "type": "nominal", "sort": "descending"},
    "detail": {"field": "p", "type": "nominal"},
    "text": {"field": "v", "type": "quantitative"}
   }},
  {"transform": [{"filter": {"field": "k", "equal": "p"}}],
   "mark": {"type": "text", "font": "Roboto Condensed, Roboto, sans-serif", "fontWeight": "bold", "fontSize": 23, "color": "white", "align": "center", "baseline": "middle"},
   "encoding": {
    "theta": {"field": "v", "type": "quantitative", "stack": true, "scale": {"domain": [0, 543]}},
    "radius": {"field": "s", "type": "nominal", "scale": {"range": [25, 25]}},
    "order": {"field": "p", "type": "nominal", "sort": "descending"},
    "detail": {"field": "p", "type": "nominal"},
    "text": {"field": "v", "type": "quantitative"}
   }}
 ],
 "resolve": {"scale": {"radius": "independent"}, "axis": {"x": "independent"}}
},
{
 "width": 630, "height": 124,
 "transform": [{"filter": "datum.y == 2009"}],
 "encoding": {
  "x": {"field": "s", "type": "nominal", "sort": ["ನೈಜ ಫಲಿತಾಂಶ","ನ್ಯೂಸ್ ಎಕ್ಸ್","ಸ್ಟಾರ್ ನ್ಯೂಸ್|-ಎಸಿ ನೀಲ್ಸನ್","ಟೈಮ್ಸ್ ನೌ","ಹೆಡ್\u200cಲೈನ್ಸ್|ಟುಡೇ","ಎನ್\u200cಡಿಟಿವಿ","ಸಿಎನ್\u200cಎನ್-|ಐಬಿಎನ್"], "scale": {"type": "point", "padding": 0.585, "align": 0.596}, "axis": null},
  "y": {"field": "k", "type": "nominal", "scale": {"type": "point", "padding": 0, "domain": ["a","p"], "range": [66, 78]}, "axis": null}
 },
 "layer": [
  {"transform": [{"filter": {"field": "k", "equal": "a"}}, {"stack": "v", "groupby": ["s"], "sort": [{"field": "p", "order": "descending"}], "as": ["s0","s1"]}],
   "mark": {"type": "arc", "outerRadius": 54, "stroke": "#f7f3e6", "strokeWidth": 1},
   "encoding": {
    "x": {"field": "s", "type": "nominal", "sort": ["ನೈಜ ಫಲಿತಾಂಶ","ನ್ಯೂಸ್ ಎಕ್ಸ್","ಸ್ಟಾರ್ ನ್ಯೂಸ್|-ಎಸಿ ನೀಲ್ಸನ್","ಟೈಮ್ಸ್ ನೌ","ಹೆಡ್\u200cಲೈನ್ಸ್|ಟುಡೇ","ಎನ್\u200cಡಿಟಿವಿ","ಸಿಎನ್\u200cಎನ್-|ಐಬಿಎನ್"], "scale": {"type": "point", "padding": 0.585, "align": 0.596}, "axis": {"title": "2009", "titleX": 59, "titleY": 39, "labelPadding": 2}},
    "theta": {"field": "s0", "type": "quantitative", "stack": null, "scale": {"domain": [0, 543]}},
    "theta2": {"field": "s1"},
    "color": {"field": "p", "type": "nominal", "title": null, "scale": {"domain": ["ಬಿಜೆಪಿ ಮೈತ್ರಿಕೂಟ","ಕಾಂಗ್ರೆಸ್ ಮೈತ್ರಿಕೂಟ","ಇತರ"], "range": ["#ee5a24","#1e72bd","#474747"]}}
   }},
  {"transform": [{"filter": {"field": "k", "equal": "p"}}, {"stack": "v", "groupby": ["s"], "sort": [{"field": "p", "order": "descending"}], "as": ["s0","s1"]}],
   "mark": {"type": "arc", "outerRadius": 42, "stroke": "#f7f3e6", "strokeWidth": 1},
   "encoding": {
    "x": {"field": "s", "type": "nominal", "sort": ["ನೈಜ ಫಲಿತಾಂಶ","ನ್ಯೂಸ್ ಎಕ್ಸ್","ಸ್ಟಾರ್ ನ್ಯೂಸ್|-ಎಸಿ ನೀಲ್ಸನ್","ಟೈಮ್ಸ್ ನೌ","ಹೆಡ್\u200cಲೈನ್ಸ್|ಟುಡೇ","ಎನ್\u200cಡಿಟಿವಿ","ಸಿಎನ್\u200cಎನ್-|ಐಬಿಎನ್"], "scale": {"type": "point", "padding": 0.585, "align": 0.596}, "axis": {"orient": "top", "domain": true, "domainDash": [5, 3], "domainColor": "#2a2a2a", "labels": false, "title": null}},
    "theta": {"field": "s0", "type": "quantitative", "stack": null, "scale": {"domain": [0, 543]}},
    "theta2": {"field": "s1"},
    "color": {"field": "p", "type": "nominal", "title": null, "scale": {"domain": ["ಬಿಜೆಪಿ ಮೈತ್ರಿಕೂಟ","ಕಾಂಗ್ರೆಸ್ ಮೈತ್ರಿಕೂಟ","ಇತರ"], "range": ["#ee5a24","#1e72bd","#474747"]}}
   }},
  {"transform": [{"filter": {"field": "k", "equal": "a"}}, {"filter": {"field": "p", "equal": "ಬಿಜೆಪಿ ಮೈತ್ರಿಕೂಟ"}}],
   "mark": {"type": "circle", "color": "white", "size": 140, "opacity": 1}},
  {"transform": [{"filter": {"field": "k", "equal": "p"}}, {"filter": {"field": "p", "equal": "ಬಿಜೆಪಿ ಮೈತ್ರಿಕೂಟ"}}],
   "mark": {"type": "circle", "color": "white", "size": 50, "opacity": 1}},
  {"transform": [{"filter": {"field": "k", "equal": "a"}}],
   "mark": {"type": "text", "font": "Roboto Condensed, Roboto, sans-serif", "fontWeight": "bold", "fontSize": 28, "color": "white", "align": "center", "baseline": "middle"},
   "encoding": {
    "theta": {"field": "v", "type": "quantitative", "stack": true, "scale": {"domain": [0, 543]}},
    "radius": {"field": "s", "type": "nominal", "scale": {"range": [32, 32]}},
    "order": {"field": "p", "type": "nominal", "sort": "descending"},
    "detail": {"field": "p", "type": "nominal"},
    "text": {"field": "v", "type": "quantitative"}
   }},
  {"transform": [{"filter": {"field": "k", "equal": "p"}}],
   "mark": {"type": "text", "font": "Roboto Condensed, Roboto, sans-serif", "fontWeight": "bold", "fontSize": 23, "color": "white", "align": "center", "baseline": "middle"},
   "encoding": {
    "theta": {"field": "v", "type": "quantitative", "stack": true, "scale": {"domain": [0, 543]}},
    "radius": {"field": "s", "type": "nominal", "scale": {"range": [25, 25]}},
    "order": {"field": "p", "type": "nominal", "sort": "descending"},
    "detail": {"field": "p", "type": "nominal"},
    "text": {"field": "v", "type": "quantitative"}
   }}
 ],
 "resolve": {"scale": {"radius": "independent"}, "axis": {"x": "independent"}}
},
{
 "width": 630, "height": 128,
 "transform": [{"filter": "datum.y == 2014"}],
 "encoding": {
  "x": {"field": "s", "type": "nominal", "sort": ["ನೈಜ ಫಲಿತಾಂಶ","ಟೈಮ್ಸ್ ನೌ","ಸಿಎನ್\u200cಎನ್ -|ಐಬಿಎನ್","ಎಬಿಪಿ","ಇಂಡಿಯಾ ಟಿವಿ|ಸಿ ಓಟರ್","ನ್ಯೂಸ್ 24-|ಚಾಣಕ್ಯ"], "scale": {"type": "point", "padding": 0.509, "align": 0.633}, "axis": null},
  "y": {"field": "k", "type": "nominal", "scale": {"type": "point", "padding": 0, "domain": ["a","p"], "range": [68, 81]}, "axis": null}
 },
 "layer": [
  {"transform": [{"filter": {"field": "k", "equal": "a"}}, {"stack": "v", "groupby": ["s"], "sort": [{"field": "p", "order": "descending"}], "as": ["s0","s1"]}],
   "mark": {"type": "arc", "outerRadius": 58, "stroke": "#f7f3e6", "strokeWidth": 1},
   "encoding": {
    "x": {"field": "s", "type": "nominal", "sort": ["ನೈಜ ಫಲಿತಾಂಶ","ಟೈಮ್ಸ್ ನೌ","ಸಿಎನ್\u200cಎನ್ -|ಐಬಿಎನ್","ಎಬಿಪಿ","ಇಂಡಿಯಾ ಟಿವಿ|ಸಿ ಓಟರ್","ನ್ಯೂಸ್ 24-|ಚಾಣಕ್ಯ"], "scale": {"type": "point", "padding": 0.509, "align": 0.633}, "axis": {"title": "2014", "titleX": 65, "titleY": 39, "labelPadding": 2}},
    "theta": {"field": "s0", "type": "quantitative", "stack": null, "scale": {"domain": [0, 543]}},
    "theta2": {"field": "s1"},
    "color": {"field": "p", "type": "nominal", "title": null, "scale": {"domain": ["ಬಿಜೆಪಿ ಮೈತ್ರಿಕೂಟ","ಕಾಂಗ್ರೆಸ್ ಮೈತ್ರಿಕೂಟ","ಇತರ"], "range": ["#ee5a24","#1e72bd","#474747"]}}
   }},
  {"transform": [{"filter": {"field": "k", "equal": "p"}}, {"stack": "v", "groupby": ["s"], "sort": [{"field": "p", "order": "descending"}], "as": ["s0","s1"]}],
   "mark": {"type": "arc", "outerRadius": 46, "stroke": "#f7f3e6", "strokeWidth": 1},
   "encoding": {
    "x": {"field": "s", "type": "nominal", "sort": ["ನೈಜ ಫಲಿತಾಂಶ","ಟೈಮ್ಸ್ ನೌ","ಸಿಎನ್\u200cಎನ್ -|ಐಬಿಎನ್","ಎಬಿಪಿ","ಇಂಡಿಯಾ ಟಿವಿ|ಸಿ ಓಟರ್","ನ್ಯೂಸ್ 24-|ಚಾಣಕ್ಯ"], "scale": {"type": "point", "padding": 0.509, "align": 0.633}, "axis": {"orient": "top", "domain": true, "domainDash": [5, 3], "domainColor": "#2a2a2a", "labels": false, "title": null}},
    "theta": {"field": "s0", "type": "quantitative", "stack": null, "scale": {"domain": [0, 543]}},
    "theta2": {"field": "s1"},
    "color": {"field": "p", "type": "nominal", "title": null, "scale": {"domain": ["ಬಿಜೆಪಿ ಮೈತ್ರಿಕೂಟ","ಕಾಂಗ್ರೆಸ್ ಮೈತ್ರಿಕೂಟ","ಇತರ"], "range": ["#ee5a24","#1e72bd","#474747"]}}
   }},
  {"transform": [{"filter": {"field": "k", "equal": "a"}}, {"filter": {"field": "p", "equal": "ಬಿಜೆಪಿ ಮೈತ್ರಿಕೂಟ"}}],
   "mark": {"type": "circle", "color": "white", "size": 190, "opacity": 1}},
  {"transform": [{"filter": {"field": "k", "equal": "p"}}, {"filter": {"field": "p", "equal": "ಬಿಜೆಪಿ ಮೈತ್ರಿಕೂಟ"}}],
   "mark": {"type": "circle", "color": "white", "size": 60, "opacity": 1}},
  {"transform": [{"filter": {"field": "k", "equal": "a"}}],
   "mark": {"type": "text", "font": "Roboto Condensed, Roboto, sans-serif", "fontWeight": "bold", "fontSize": 30, "color": "white", "align": "center", "baseline": "middle"},
   "encoding": {
    "theta": {"field": "v", "type": "quantitative", "stack": true, "scale": {"domain": [0, 543]}},
    "radius": {"field": "s", "type": "nominal", "scale": {"range": [37, 37]}},
    "order": {"field": "p", "type": "nominal", "sort": "descending"},
    "detail": {"field": "p", "type": "nominal"},
    "text": {"field": "v", "type": "quantitative"}
   }},
  {"transform": [{"filter": {"field": "k", "equal": "p"}}],
   "mark": {"type": "text", "font": "Roboto Condensed, Roboto, sans-serif", "fontWeight": "bold", "fontSize": 24, "color": "white", "align": "center", "baseline": "middle"},
   "encoding": {
    "theta": {"field": "v", "type": "quantitative", "stack": true, "scale": {"domain": [0, 543]}},
    "radius": {"field": "s", "type": "nominal", "scale": {"range": [28, 28]}},
    "order": {"field": "p", "type": "nominal", "sort": "descending"},
    "detail": {"field": "p", "type": "nominal"},
    "text": {"field": "v", "type": "quantitative"}
   }}
 ],
 "resolve": {"scale": {"radius": "independent"}, "axis": {"x": "independent"}}
}
],
"config": {
  "view": {"stroke": null},
  "axis": {
    "ticks": false, "domain": false, "grid": false,
    "labelAngle": 0, "labelOverlap": false,
    "labelFont": "Noto Sans Kannada, Noto Sans, sans-serif", "labelFontSize": 14, "labelLineHeight": 18, "labelColor": "#1a1a1a",
    "labelExpr": "split(datum.label, '|')",
    "titleFont": "Liberation Serif, DejaVu Serif, serif", "titleFontSize": 30, "titleFontWeight": "normal", "titleColor": "#1a1a1a",
    "titleAlign": "center", "titleBaseline": "middle", "titleAngle": 0
  },
  "legend": {
    "orient": "none", "legendX": 131, "legendY": 982, "direction": "horizontal",
    "symbolType": "square", "symbolSize": 300, "symbolStrokeWidth": 0, "symbolOpacity": 1,
    "labelFont": "Noto Sans Kannada, Noto Sans, sans-serif", "labelFontSize": 18.5, "labelColor": "#111",
    "columnPadding": 28, "labelOffset": 4
  }
}
}
